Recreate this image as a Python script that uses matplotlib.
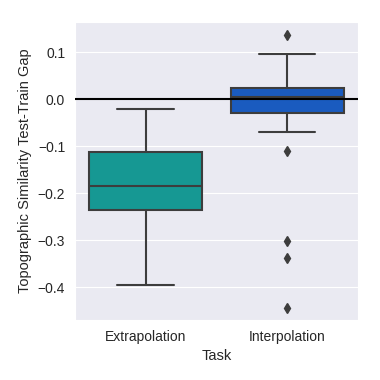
import matplotlib
matplotlib.use("Agg")
import seaborn as sns
from matplotlib import pyplot as plt

tasks = ["Extrapolation", "Interpolation"]
colores = ["#169893", "#1a5bbf"]

# estadisticas
q1 = [-0.236, -0.030]
mediana = [-0.185, 0.004]
q3 = [-0.113, 0.023]
bigote_inf = [-0.396, -0.070]
bigote_sup = [-0.021, 0.096]
outliers = [[], [0.136, -0.110, -0.303, -0.338, -0.444]]

sns.set_style("darkgrid")
plt.rcParams["font.family"] = ["Liberation Sans", "DejaVu Sans"]

stats = []
for i, t in enumerate(tasks):
    stats.append({
        "label": t,
        "q1": q1[i],
        "med": mediana[i],
        "q3": q3[i],
        "whislo": bigote_inf[i],
        "whishi": bigote_sup[i],
        "fliers": outliers[i],
    })

fig, ax = plt.subplots(figsize=(3.8, 3.8), dpi=100)
gris = "#3d3d3d"
bp = ax.bxp(stats, positions=[0, 1], widths=0.8, patch_artist=True,
            boxprops=dict(edgecolor=gris, linewidth=1.5),
            medianprops=dict(color=gris, linewidth=1.5),
            whiskerprops=dict(color=gris, linewidth=1.5),
            capprops=dict(color=gris, linewidth=1.5),
            flierprops=dict(marker="d", markerfacecolor=gris, markeredgecolor=gris,
                            markersize=5, linestyle="none"))
for caja, c in zip(bp["boxes"], colores):
    caja.set_facecolor(c)
for cap in bp["caps"]:
    x = cap.get_xdata()
    centro = (x[0] + x[1]) / 2
    cap.set_xdata([centro - 0.2, centro + 0.2])

ax.axhline(0, color="black", linewidth=1.5, zorder=5)
ax.set_xlim(-0.5, 1.5)
ax.set_ylim(-0.47, 0.164)
ax.set_yticks([-0.4, -0.3, -0.2, -0.1, 0.0, 0.1])
ax.tick_params(labelsize=10)
ax.set_xlabel("Task", fontsize=10.5)
ax.set_ylabel("Topographic Similarity Test-Train Gap", fontsize=10.5)
ax.grid(axis="x", visible=False)

fig.subplots_adjust(left=0.197, right=0.942, top=0.942, bottom=0.158)
fig.savefig("out.png", dpi=100)
